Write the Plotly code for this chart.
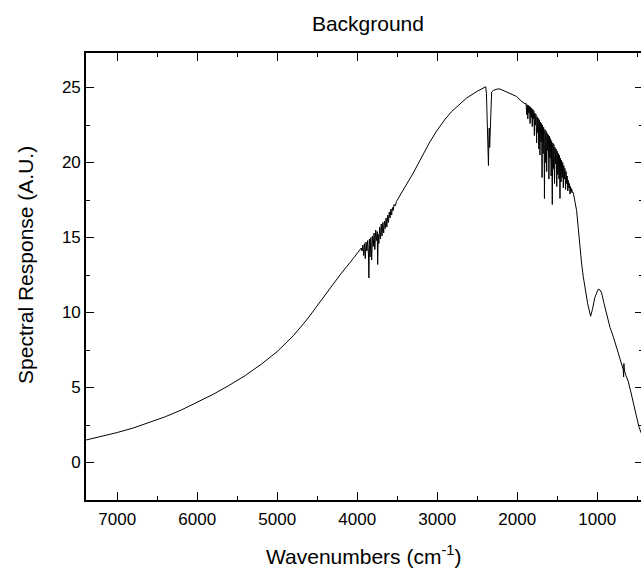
import plotly.graph_objects as go

# Wavenumbers (cm-1)
wavenumbers = [
    7391, 7200, 7000, 6800, 6600, 6400, 6200, 6000, 5800, 5600, 5400, 5200, 5000,
    4800, 4633, 4466, 4216, 4050, 3966,
    3950, 3940, 3930, 3920, 3910, 3900, 3890, 3880, 3870, 3860, 3855, 3848, 3840,
    3830, 3820, 3810, 3800, 3790, 3780, 3770, 3760, 3750, 3745, 3738, 3730, 3720,
    3710, 3700, 3690, 3680, 3670, 3660, 3650, 3640, 3630, 3620, 3610, 3600, 3590,
    3580, 3570, 3560, 3550, 3540, 3525, 3510, 3500,
    3400, 3300, 3200, 3100, 3008, 2900, 2820, 2700, 2633, 2500, 2420, 2395,
    2385, 2375, 2365, 2360, 2355, 2350, 2345, 2338, 2330, 2320, 2300, 2250,
    2216, 2150, 2100, 2008, 1950, 1900,
    1890, 1882, 1875, 1868, 1860, 1853, 1846, 1840, 1833, 1826, 1820, 1812, 1806,
    1800, 1793, 1786, 1780, 1772, 1766, 1758, 1752, 1745, 1738, 1730, 1724, 1716,
    1710, 1702, 1696, 1690, 1684, 1676, 1670, 1664, 1660, 1654, 1646, 1640, 1632,
    1626, 1618, 1612, 1604, 1598, 1590, 1584, 1576, 1570, 1562, 1556, 1548, 1542,
    1534, 1528, 1520, 1514, 1506, 1500, 1492, 1486, 1478, 1472, 1466, 1460, 1452,
    1446, 1438, 1432, 1424, 1418, 1410, 1404, 1396, 1390, 1382, 1376, 1368, 1362,
    1354, 1348, 1340, 1334, 1326, 1320, 1310, 1300,
    1258, 1237, 1216, 1196, 1175, 1154, 1120, 1083, 1060, 1030, 1000, 987, 965,
    945, 915, 883, 840, 800, 760, 716, 690, 675, 670, 667, 660, 640, 612, 580,
    550, 530, 508, 480, 453, 430, 400,
]

# Spectral response (A.U.)
response = [
    1.50, 1.72, 2.00, 2.30, 2.65, 3.05, 3.50, 4.00, 4.55, 5.15, 5.80, 6.55, 7.40,
    8.45, 9.50, 10.70, 12.50, 13.60, 14.20,
    14.3, 14.1, 14.5, 13.8, 14.6, 13.6, 14.7, 14.1, 14.8, 13.9, 12.3, 14.9, 13.7,
    15.0, 13.5, 15.1, 14.4, 15.3, 14.2, 15.5, 14.8, 15.4, 13.2, 15.2, 14.6, 15.7,
    14.9, 15.9, 15.1, 16.0, 15.3, 16.1, 15.6, 16.3, 15.7, 16.5, 16.0, 16.7, 16.3,
    16.9, 16.5, 17.0, 16.8, 17.2, 17.1, 17.4, 17.5,
    18.4, 19.3, 20.3, 21.3, 22.1, 22.9, 23.4, 24.0, 24.3, 24.75, 25.0, 25.05,
    24.6, 23.0, 20.5, 19.8, 21.5, 22.3, 21.0, 22.5, 24.0, 24.7, 24.8, 24.9,
    24.9, 24.75, 24.6, 24.4, 24.1, 23.9,
    23.95, 23.2, 23.85, 22.9, 23.8, 23.3, 23.75, 22.6, 23.7, 23.0, 23.6, 22.4, 23.55,
    22.9, 23.45, 21.8, 23.3, 22.5, 23.2, 21.3, 23.05, 22.0, 22.95, 20.9, 22.85, 20.5,
    22.7, 21.4, 22.6, 19.0, 22.5, 20.6, 22.35, 21.2, 17.6, 22.2, 20.0, 22.1, 19.4,
    21.95, 20.8, 21.85, 18.9, 21.75, 20.3, 21.6, 19.1, 21.45, 17.2, 21.3, 19.6, 21.2,
    18.6, 21.0, 19.9, 20.9, 18.4, 20.75, 19.2, 20.6, 18.9, 20.5, 17.6, 20.3, 18.7,
    20.15, 19.0, 20.0, 18.3, 19.8, 18.9, 19.6, 18.2, 19.4, 18.6, 19.1, 18.1, 18.8,
    18.3, 18.6, 17.9, 18.4, 18.0, 18.25, 18.0, 18.0,
    16.8, 15.5, 14.4, 13.3, 12.4, 11.7, 10.6, 9.75, 10.2, 11.0, 11.5, 11.56, 11.5,
    11.3, 10.6, 9.85, 9.0, 8.4, 7.7, 6.86, 6.45, 6.2, 5.7, 6.6, 6.1, 5.8, 5.4, 4.7,
    3.97, 3.5, 2.9, 2.4, 2.0, 1.7, 1.4,
]

x_tick_values = [7000, 6000, 5000, 4000, 3000, 2000, 1000]
x_tick_labels = ["7000", "6000", "5000", "4000", "3000", "2000", "1000"]
y_tick_values = [0, 5, 10, 15, 20, 25]
y_tick_labels = ["0", "5", "10", "15", "20", "25"]

FONT = "Liberation Sans, Arial, sans-serif"
x_range = [7391, 453]
y_range = [-2.5, 27.3]

fig = go.Figure()
fig.add_trace(go.Scatter(
    x=wavenumbers, y=response, mode="lines",
    line=dict(color="black", width=1),
    showlegend=False, hoverinfo="skip",
))
fig.add_trace(go.Scatter(x=[], y=[], yaxis="y2", showlegend=False, hoverinfo="skip"))

axis_common = dict(
    showgrid=False, zeroline=False, showline=True, linecolor="black", linewidth=1.6,
    ticks="inside", tickcolor="black", tickwidth=1.4, ticklen=8,
    tickfont=dict(family=FONT, size=17, color="black"),
)

fig.update_layout(
    width=641, height=570,
    margin=dict(l=86, r=0, t=53, b=70),
    paper_bgcolor="white", plot_bgcolor="white",
    title=dict(text="Background", x=0.508, xref="paper", xanchor="center",
               y=0.958, yref="container", yanchor="middle",
               font=dict(family=FONT, size=21, color="black")),
    xaxis=dict(
        range=x_range, tickvals=x_tick_values, ticktext=x_tick_labels,
        mirror="ticks", ticklabelstandoff=3,
        minor=dict(dtick=500, ticklen=4, tickwidth=1.4, tickcolor="black", ticks="inside"),
        **axis_common,
    ),
    yaxis=dict(
        range=y_range, tickvals=y_tick_values, ticktext=y_tick_labels,
        minor=dict(dtick=2.5, tick0=0, ticklen=4, tickwidth=1.4, tickcolor="black", ticks="inside"),
        **axis_common,
    ),
    yaxis2=dict(
        range=y_range, overlaying="y", side="right", anchor="x",
        showgrid=False, zeroline=False, showline=False, showticklabels=False,
        tickvals=y_tick_values, ticks="inside", ticklen=6, tickwidth=1.4, tickcolor="black",
        minor=dict(dtick=2.5, tick0=0, ticklen=2, tickwidth=1.4, tickcolor="black", ticks="inside"),
    ),
    annotations=[
        dict(text="Wavenumbers (cm<sup>-1</sup>)", xref="paper", yref="paper",
             x=0.5, y=-0.124, xanchor="center", yanchor="middle", showarrow=False,
             font=dict(family=FONT, size=21, color="black")),
        dict(text="Spectral Response (A.U.)", xref="paper", yref="paper",
             x=-0.108, y=0.526, xanchor="center", yanchor="middle", showarrow=False,
             textangle=-90, font=dict(family=FONT, size=21, color="black")),
    ],
)

fig.write_html("out.html")
